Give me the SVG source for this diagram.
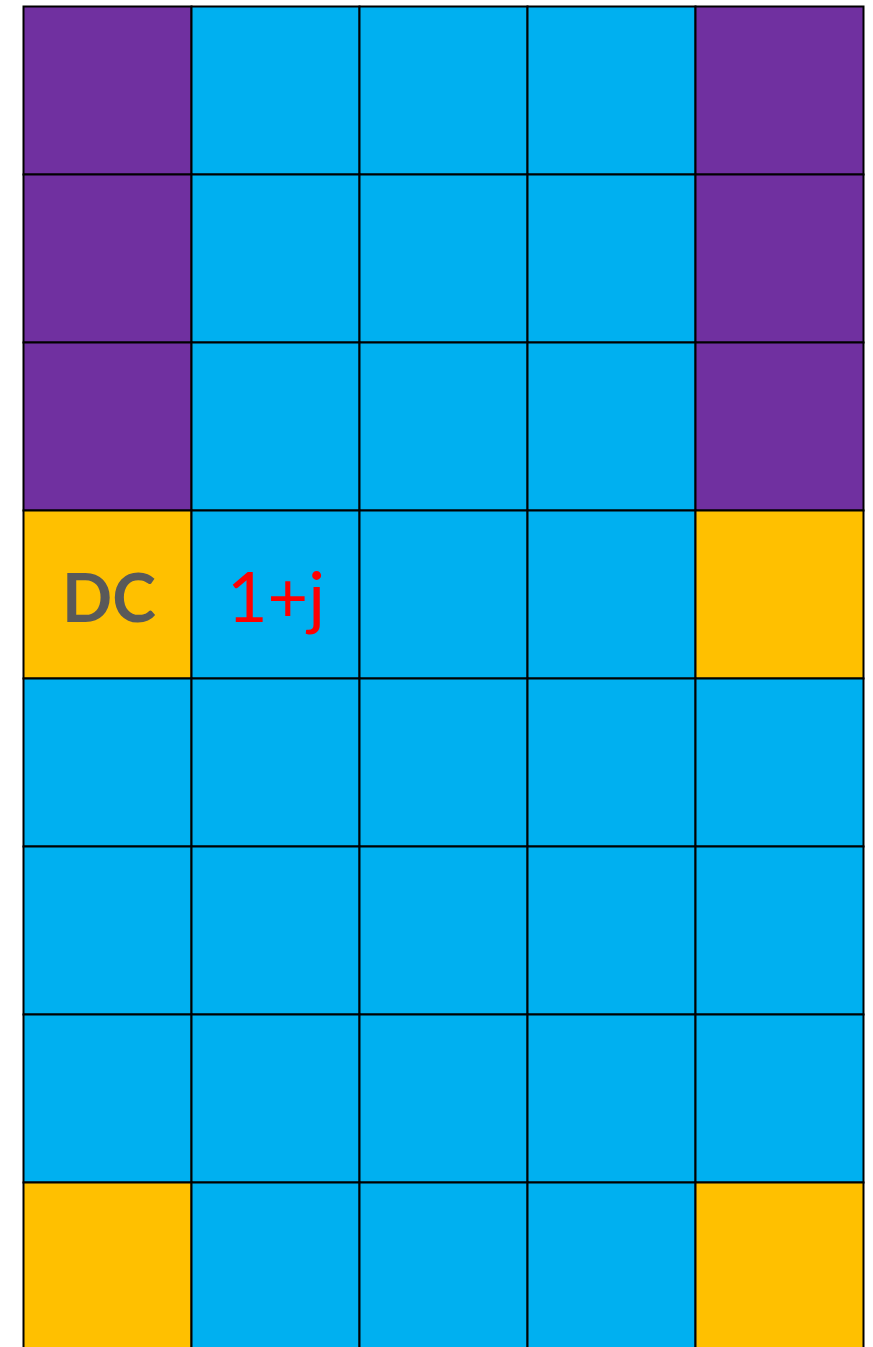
<svg xmlns="http://www.w3.org/2000/svg" width="873" height="1347" viewBox="0 0 873 1347">
<style>
.c{stroke:#000;stroke-width:2}
.p{fill:#7030A0}
.b{fill:#00B0F0}
.y{fill:#FFC000}
.dc{font-family:Lato,"Open Sans",sans-serif;font-weight:bold;font-size:66px;fill:#595959;text-anchor:middle}
.cx{font-family:Lato,"Open Sans",sans-serif;font-size:70px;fill:#FF0000;text-anchor:middle}
</style>
<rect width="873" height="1347" fill="#fff"/>
<g id="row0">
<rect class="c p" x="23.5" y="6.5" width="168" height="168"/>
<rect class="c b" x="191.5" y="6.5" width="168" height="168"/>
<rect class="c b" x="359.5" y="6.5" width="168" height="168"/>
<rect class="c b" x="527.5" y="6.5" width="168" height="168"/>
<rect class="c p" x="695.5" y="6.5" width="168" height="168"/>
</g>
<g id="row1">
<rect class="c p" x="23.5" y="174.5" width="168" height="168"/>
<rect class="c b" x="191.5" y="174.5" width="168" height="168"/>
<rect class="c b" x="359.5" y="174.5" width="168" height="168"/>
<rect class="c b" x="527.5" y="174.5" width="168" height="168"/>
<rect class="c p" x="695.5" y="174.5" width="168" height="168"/>
</g>
<g id="row2">
<rect class="c p" x="23.5" y="342.5" width="168" height="168"/>
<rect class="c b" x="191.5" y="342.5" width="168" height="168"/>
<rect class="c b" x="359.5" y="342.5" width="168" height="168"/>
<rect class="c b" x="527.5" y="342.5" width="168" height="168"/>
<rect class="c p" x="695.5" y="342.5" width="168" height="168"/>
</g>
<g id="row3">
<g id="dc"><rect class="c y" x="23.5" y="510.5" width="168" height="168"/>
<text class="dc" x="109" y="622">DC</text></g>
<g id="pilot"><rect class="c b" x="191.5" y="510.5" width="168" height="168"/>
<text class="cx" x="276" y="622">1+j</text></g>
<rect class="c b" x="359.5" y="510.5" width="168" height="168"/>
<rect class="c b" x="527.5" y="510.5" width="168" height="168"/>
<rect class="c y" x="695.5" y="510.5" width="168" height="168"/>
</g>
<g id="row4">
<rect class="c b" x="23.5" y="678.5" width="168" height="168"/>
<rect class="c b" x="191.5" y="678.5" width="168" height="168"/>
<rect class="c b" x="359.5" y="678.5" width="168" height="168"/>
<rect class="c b" x="527.5" y="678.5" width="168" height="168"/>
<rect class="c b" x="695.5" y="678.5" width="168" height="168"/>
</g>
<g id="row5">
<rect class="c b" x="23.5" y="846.5" width="168" height="168"/>
<rect class="c b" x="191.5" y="846.5" width="168" height="168"/>
<rect class="c b" x="359.5" y="846.5" width="168" height="168"/>
<rect class="c b" x="527.5" y="846.5" width="168" height="168"/>
<rect class="c b" x="695.5" y="846.5" width="168" height="168"/>
</g>
<g id="row6">
<rect class="c b" x="23.5" y="1014.5" width="168" height="168"/>
<rect class="c b" x="191.5" y="1014.5" width="168" height="168"/>
<rect class="c b" x="359.5" y="1014.5" width="168" height="168"/>
<rect class="c b" x="527.5" y="1014.5" width="168" height="168"/>
<rect class="c b" x="695.5" y="1014.5" width="168" height="168"/>
</g>
<g id="row7">
<rect class="c y" x="23.5" y="1182.5" width="168" height="168"/>
<rect class="c b" x="191.5" y="1182.5" width="168" height="168"/>
<rect class="c b" x="359.5" y="1182.5" width="168" height="168"/>
<rect class="c b" x="527.5" y="1182.5" width="168" height="168"/>
<rect class="c y" x="695.5" y="1182.5" width="168" height="168"/>
</g>
</svg>
